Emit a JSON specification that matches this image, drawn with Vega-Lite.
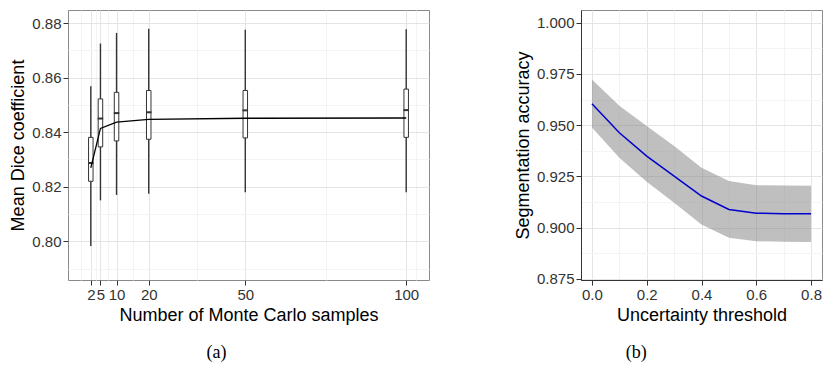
{
  "$schema": "https://vega.github.io/schema/vega-lite/v6.json",
  "background": "white",
  "padding": {"left": 9, "top": 9, "right": 1, "bottom": 5},
  "spacing": 83,
  "datasets": {
    "boxes": [
      {"n": 2, "lo": 0.7983, "q1": 0.8220, "med": 0.8287, "q3": 0.8381, "hi": 0.8568, "m": 0.8269},
      {"n": 5, "lo": 0.8150, "q1": 0.8346, "med": 0.8450, "q3": 0.8522, "hi": 0.8725, "m": 0.8414},
      {"n": 10, "lo": 0.8170, "q1": 0.8368, "med": 0.8470, "q3": 0.8546, "hi": 0.8764, "m": 0.8437},
      {"n": 20, "lo": 0.8174, "q1": 0.8374, "med": 0.8473, "q3": 0.8553, "hi": 0.8779, "m": 0.8447},
      {"n": 50, "lo": 0.8180, "q1": 0.8379, "med": 0.8480, "q3": 0.8553, "hi": 0.8776, "m": 0.8451},
      {"n": 100, "lo": 0.8180, "q1": 0.8381, "med": 0.8481, "q3": 0.8558, "hi": 0.8777, "m": 0.8452}
    ],
    "acc": [
      {"t": 0.0, "mean": 0.9604, "lo": 0.9488, "hi": 0.9723},
      {"t": 0.1, "mean": 0.9463, "lo": 0.9341, "hi": 0.9594},
      {"t": 0.2, "mean": 0.9349, "lo": 0.9224, "hi": 0.9496},
      {"t": 0.3, "mean": 0.9251, "lo": 0.9121, "hi": 0.9398},
      {"t": 0.4, "mean": 0.9154, "lo": 0.9015, "hi": 0.9292},
      {"t": 0.5, "mean": 0.9088, "lo": 0.8950, "hi": 0.9227},
      {"t": 0.6, "mean": 0.9070, "lo": 0.8933, "hi": 0.9207},
      {"t": 0.7, "mean": 0.9068, "lo": 0.8931, "hi": 0.9205},
      {"t": 0.8, "mean": 0.9067, "lo": 0.8929, "hi": 0.9204}
    ]
  },
  "hconcat": [
    {
      "width": 361,
      "height": 270,
      "title": {"text": "(a)", "orient": "bottom", "frame": "bounds", "anchor": "middle", "offset": 20, "dx": -3},
      "data": {"name": "boxes"},
      "encoding": {
        "x": {
          "field": "n", "type": "quantitative",
          "scale": {"domain": [-3.53, 105.53], "nice": false, "zero": false},
          "axis": {
            "title": "Number of Monte Carlo samples",
            "values": [-1, 2, 3.5, 5, 7.5, 10, 15, 20, 35, 50, 75, 100, 103],
            "labelExpr": "indexof([2,5,10,20,50,100], datum.value) >= 0 ? format(datum.value, 'd') : ''",
            "gridColor": {"condition": {"test": "indexof([2,5,10,20,50,100], datum.value) >= 0", "value": "#e4e4e4"}, "value": "#f4f4f4"},
            "tickOpacity": {"condition": {"test": "indexof([2,5,10,20,50,100], datum.value) >= 0", "value": 1}, "value": 0},
            "domain": false,
            "labelOverlap": false,
            "labelFlush": false
          }
        },
        "y": {
          "type": "quantitative", "title": "Mean Dice coefficient",
          "scale": {"domain": [0.7858, 0.8848], "nice": false, "zero": false},
          "axis": {
            "values": [0.79, 0.8, 0.81, 0.82, 0.83, 0.84, 0.85, 0.86, 0.87, 0.88],
            "labelExpr": "abs(datum.value*50 - round(datum.value*50)) < 0.01 ? format(datum.value, '.2f') : ''",
            "gridColor": {"condition": {"test": "abs(datum.value*50 - round(datum.value*50)) < 0.01", "value": "#e4e4e4"}, "value": "#f4f4f4"},
            "tickOpacity": {"condition": {"test": "abs(datum.value*50 - round(datum.value*50)) < 0.01", "value": 1}, "value": 0},
            "domain": false,
            "labelOverlap": false,
            "labelFlush": false
          }
        }
      },
      "layer": [
        {
          "mark": {"type": "rule", "color": "#333333", "strokeWidth": 1.4},
          "encoding": {
            "y": {"field": "lo"},
            "y2": {"field": "hi"}
          }
        },
        {
          "mark": {"type": "bar", "size": 4.5, "fill": "white", "stroke": "#333333", "strokeWidth": 1},
          "encoding": {
            "y": {"field": "q1"},
            "y2": {"field": "q3"}
          }
        },
        {
          "mark": {"type": "tick", "orient": "horizontal", "size": 5.5, "thickness": 2, "color": "#333333", "opacity": 1},
          "encoding": {
            "y": {"field": "med"}
          }
        },
        {
          "mark": {"type": "line", "color": "black", "strokeWidth": 1.3},
          "encoding": {
            "y": {"field": "m"}
          }
        }
      ]
    },
    {
      "width": 241,
      "height": 270,
      "title": {"text": "(b)", "orient": "bottom", "frame": "bounds", "anchor": "middle", "offset": 20, "dx": -32},
      "data": {"name": "acc"},
      "encoding": {
        "x": {
          "field": "t", "type": "quantitative",
          "scale": {"domain": [-0.04, 0.84], "nice": false, "zero": false},
          "axis": {
            "title": "Uncertainty threshold",
            "values": [0, 0.1, 0.2, 0.3, 0.4, 0.5, 0.6, 0.7, 0.8],
            "labelExpr": "abs(datum.value*5 - round(datum.value*5)) < 0.01 ? format(datum.value, '.1f') : ''",
            "gridColor": {"condition": {"test": "abs(datum.value*5 - round(datum.value*5)) < 0.01", "value": "#e4e4e4"}, "value": "#f4f4f4"},
            "tickOpacity": {"condition": {"test": "abs(datum.value*5 - round(datum.value*5)) < 0.01", "value": 1}, "value": 0},
            "domain": true, "domainColor": "#333333",
            "labelOverlap": false,
            "labelFlush": false
          }
        },
        "y": {
          "type": "quantitative", "title": "Segmentation accuracy",
          "scale": {"domain": [0.8744, 1.0062], "nice": false, "zero": false},
          "axis": {
            "values": [0.875, 0.8875, 0.9, 0.9125, 0.925, 0.9375, 0.95, 0.9625, 0.975, 0.9875, 1.0],
            "labelExpr": "abs(datum.value*40 - round(datum.value*40)) < 0.01 ? format(datum.value, '.3f') : ''",
            "gridColor": {"condition": {"test": "abs(datum.value*40 - round(datum.value*40)) < 0.01", "value": "#e4e4e4"}, "value": "#f4f4f4"},
            "tickOpacity": {"condition": {"test": "abs(datum.value*40 - round(datum.value*40)) < 0.01", "value": 1}, "value": 0},
            "domain": true, "domainColor": "#333333",
            "labelOverlap": false,
            "labelFlush": false
          }
        }
      },
      "layer": [
        {
          "mark": {"type": "area", "color": "#7f7f7f", "opacity": 0.5},
          "encoding": {
            "y": {"field": "lo"},
            "y2": {"field": "hi"}
          }
        },
        {
          "mark": {"type": "line", "color": "#0000cd", "strokeWidth": 1.5},
          "encoding": {
            "y": {"field": "mean"}
          }
        }
      ]
    }
  ],
  "config": {
    "view": {"stroke": "#8a8a8a", "strokeWidth": 1},
    "axis": {
      "labelFont": "Liberation Sans", "labelFontSize": 15, "labelColor": "#333333",
      "titleFont": "Liberation Sans", "titleFontSize": 18, "titleFontWeight": "normal", "titleColor": "#000000",
      "tickColor": "#333333", "tickSize": 5, "tickWidth": 1, "labelPadding": 2, "titlePadding": 4,
      "gridWidth": 1
    },
    "title": {"font": "Liberation Serif", "fontSize": 18, "fontWeight": "normal", "color": "#000000"}
  }
}
